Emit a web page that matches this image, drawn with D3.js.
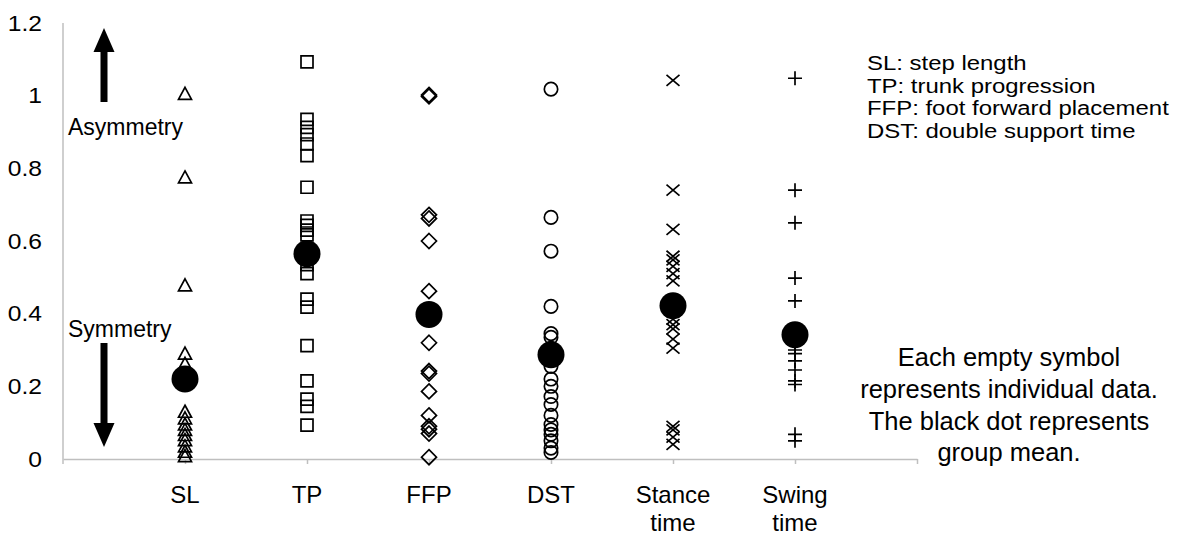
<!DOCTYPE html>
<html>
<head>
<meta charset="utf-8">
<script src="https://cdn.jsdelivr.net/npm/d3@7"></script>
<style>
  html, body { margin: 0; padding: 0; background: #fff; }
  svg { display: block; font-family: "Liberation Sans", Arial, sans-serif; }
</style>
</head>
<body>
<svg id="chart" width="1183" height="537"></svg>
<script>
// ---- data ----
const categories = ["SL", "TP", "FFP", "DST", "Stance time", "Swing time"];
const slValues = [1.005, 0.775, 0.478, 0.29, 0.262, 0.13, 0.112, 0.095, 0.08, 0.066, 0.052, 0.035, 0.02, 0.008];
const tpValues = [1.093, 0.935, 0.913, 0.893, 0.867, 0.835, 0.748, 0.655, 0.643, 0.63, 0.617, 0.535, 0.51, 0.44, 0.418, 0.312, 0.215, 0.165, 0.145, 0.093];
const ffpValues = [1.002, 0.998, 0.672, 0.662, 0.6, 0.462, 0.385, 0.32, 0.242, 0.235, 0.186, 0.12, 0.09, 0.082, 0.07, 0.005];
const dstValues = [1.018, 0.665, 0.572, 0.42, 0.345, 0.335, 0.305, 0.295, 0.255, 0.22, 0.2, 0.172, 0.15, 0.12, 0.095, 0.08, 0.068, 0.05, 0.03, 0.018];
const stanceValues = [1.042, 0.74, 0.632, 0.558, 0.548, 0.53, 0.51, 0.49, 0.405, 0.385, 0.37, 0.358, 0.33, 0.305, 0.09, 0.08, 0.06, 0.04];
const swingValues = [1.048, 0.74, 0.65, 0.498, 0.435, 0.3, 0.29, 0.27, 0.245, 0.215, 0.205, 0.068, 0.05];
const meanValues = [0.22, 0.565, 0.398, 0.287, 0.422, 0.342];
const yTicks = [0, 0.2, 0.4, 0.6, 0.8, 1, 1.2];
const noteLines = ["SL: step length", "TP: trunk progression", "FFP: foot forward placement", "DST: double support time"];
const captionLines = ["Each empty symbol", "represents individual data.", "The black dot represents", "group mean."];

const seriesList = [slValues, tpValues, ffpValues, dstValues, stanceValues, swingValues];
const symbolTypes = ["triangle", "square", "diamond", "circle", "cross", "plus"];

// ---- layout ----
const svg = d3.select("#chart");
const x = d3.scaleLinear().domain([0, 7]).range([63, 917]);
const y = d3.scaleLinear().domain([0, 1.2]).range([459, 23]);
const axisColor = "#bfbfbf";

// y axis
const yAxis = d3.axisLeft(y).tickValues(yTicks).tickSize(0).tickPadding(21)
  .tickFormat(d => d3.format("")(+d.toFixed(1)));
const gy = svg.append("g").attr("transform", `translate(${x(0)},0)`).call(yAxis);
gy.select(".domain").attr("stroke", axisColor).attr("stroke-width", 1.5)
  .attr("d", `M0,${y(1.2)}V${y(0) + 5}`);
gy.selectAll("text").attr("font-size", 22).attr("fill", "#000")
  .attr("font-family", "Liberation Sans, Arial, sans-serif")
  .attr("x", 0).attr("transform", "translate(-21,0) scale(1.12,1)");

// x axis
const xAxis = d3.axisBottom(x).tickValues(d3.range(1, 8)).tickSize(5).tickSizeOuter(0).tickFormat("");
const gx = svg.append("g").attr("transform", `translate(0,${y(0)})`).call(xAxis);
gx.select(".domain").attr("stroke", axisColor).attr("stroke-width", 1.5);
gx.selectAll(".tick line").attr("stroke", axisColor).attr("stroke-width", 1.5);

// category labels
categories.forEach((c, i) => {
  const words = c.split(" ");
  const t = svg.append("text")
    .attr("x", x(i + 1)).attr("y", 503)
    .attr("text-anchor", "middle").attr("font-size", 24).attr("fill", "#000");
  words.forEach((w, j) => {
    t.append("tspan").attr("x", x(i + 1)).attr("dy", j === 0 ? 0 : 28).text(w);
  });
});

// symbol shapes
function symbolPath(type) {
  switch (type) {
    case "triangle": return "M0,-6.5 L6.5,5.5 L-6.5,5.5 Z";
    case "square": return "M-6,-6 H6 V6 H-6 Z";
    case "diamond": return "M0,-7.5 L7.5,0 L0,7.5 L-7.5,0 Z";
    case "circle": return d3.symbol(d3.symbolCircle, 140)();
    case "cross": return "M-6.5,-5.5 L6.5,5.5 M-6.5,5.5 L6.5,-5.5";
    case "plus": return "M-7,0 H7 M0,-7 V7";
  }
}

seriesList.forEach((vals, i) => {
  svg.append("g").selectAll("path")
    .data(vals)
    .join("path")
    .attr("d", symbolPath(symbolTypes[i]))
    .attr("transform", d => `translate(${x(i + 1)},${y(d)})`)
    .attr("fill", "none")
    .attr("stroke", "#000")
    .attr("stroke-width", 1.7);
});

// means
svg.append("g").selectAll("circle")
  .data(meanValues)
  .join("circle")
  .attr("cx", (d, i) => x(i + 1))
  .attr("cy", d => y(d))
  .attr("r", 13.5)
  .attr("fill", "#000");

// arrows
function arrow(xc, yStart, yEnd) {
  const dir = yEnd < yStart ? -1 : 1;
  const headLen = 24, headHalf = 10.5, shaftHalf = 3.5;
  const yBase = yEnd - dir * headLen;
  svg.append("path")
    .attr("d", `M${xc - shaftHalf},${yStart} L${xc - shaftHalf},${yBase} L${xc - headHalf},${yBase} L${xc},${yEnd} L${xc + headHalf},${yBase} L${xc + shaftHalf},${yBase} L${xc + shaftHalf},${yStart} Z`)
    .attr("fill", "#000");
}
arrow(104, 102, 28);
arrow(104, 343, 447);

svg.append("text").attr("x", 68).attr("y", 135).attr("font-size", 23).text("Asymmetry");
svg.append("text").attr("x", 68).attr("y", 337).attr("font-size", 23).text("Symmetry");

// notes
const notes = svg.append("g").attr("transform", "translate(867,0) scale(1.14,1)");
noteLines.forEach((l, i) => {
  notes.append("text").attr("x", 0).attr("y", 70 + i * 22.6)
    .attr("font-size", 21).attr("fill", "#000").text(l);
});
captionLines.forEach((l, i) => {
  svg.append("text").attr("x", 1009).attr("y", 366 + i * 31.8)
    .attr("text-anchor", "middle").attr("font-size", 25.5).attr("fill", "#000").text(l);
});
</script>
</body>
</html>
